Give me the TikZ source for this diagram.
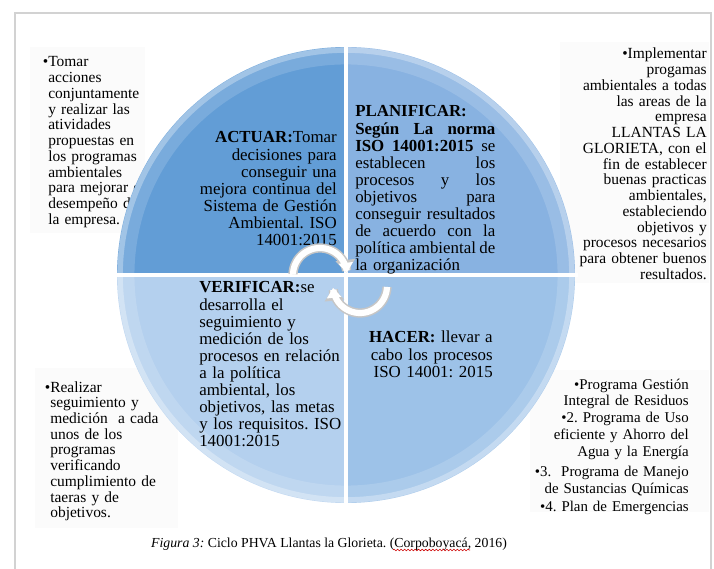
\documentclass[tikz,border=0pt]{standalone}
\usepackage{fontspec}
\setmainfont{Liberation Serif}
\usepackage{tikz}
\usetikzlibrary{arrows.meta,decorations.pathmorphing}

\definecolor{actuar}{RGB}{98,157,214}
\definecolor{planificar}{RGB}{136,178,225}
\definecolor{hacer}{RGB}{157,194,232}
\definecolor{verificar}{RGB}{180,208,238}

% bullet hanging into the left margin
\newcommand{\bl}{\makebox[0pt][r]{•}}
\frenchspacing

\begin{document}
\begin{tikzpicture}[x=0.025cm, y=-0.025cm,
    note/.style={inner sep=0pt, font=\fontsize{11}{11.2}\selectfont},
    phase/.style={inner sep=0pt, font=\fontsize{12}{12.1}\selectfont},
    cycout/.style={line width=6.6pt, gray!45, -{Triangle[width=13.5pt,length=9pt]}},
    cycin/.style={line width=4.4pt, white, -{Triangle[width=10pt,length=7pt]}}]

    \useasboundingbox (0,0) rectangle (714,569);

    % Frame
    \draw[gray!35, line width=0.8pt] (15,569) -- (15,13) -- (711,13) -- (711,569);

    % Side notes
    \fill[black!1.5] (30,47) rectangle (145,233);
    \fill[black!1.5] (560,42) rectangle (709,283);
    \fill[black!1.5] (35,368) rectangle (178,528);
    \fill[black!1.5] (530,370) rectangle (709,512);

    \node[note, anchor=base west, align=left, text width=3cm] (tomar) at (48,67)
        {\bl Tomar\\ acciones\\ conjuntamente\\ y realizar las\\ atividades\\
         propuestas en\\ los programas\\ ambientales\\ para mejorar el\\
         desempeño de\\ la empresa.};
    \node[note, anchor=base east, align=right, text width=3.8cm] (implementar) at (707,59)
        {•Implementar\\ progamas\\ ambientales a todas\\ las areas de la\\ empresa\\
         LLANTAS LA\\ GLORIETA, con el\\ fin de establecer\\ buenas practicas\\
         ambientales,\\ estableciendo\\ objetivos y\\ procesos necesarios\\
         para obtener buenos\\ resultados.};
    \node[note, anchor=base west, align=left, text width=3.2cm] (realizar) at (50,392)
        {\bl Realizar\\ seguimiento y\\ medición\ \ a cada\\ unos de los\\ programas\\
         verificando\\ cumplimiento de\\ taeras y de\\ objetivos.};
    \node[note, anchor=base east, align=right, text width=4.2cm,
        font=\fontsize{10.6}{12}\selectfont] (programas) at (689,389)
        {•Programa Gestión\\ Integral de Residuos\\ •2. Programa de Uso\\
         eficiente y Ahorro del\\ Agua y la Energía\\[2pt] •3.\ \ Programa de Manejo\\
         de Sustancias Químicas\\[1pt] •4. Plan de Emergencias};

    % Quadrants
    \fill[actuar] (346,275) -- (117,275)
        arc[start angle=180, end angle=270, x radius=229, y radius=228] -- cycle;
    \fill[planificar] (346,275) -- (346,47)
        arc[start angle=270, end angle=360, x radius=229, y radius=228] -- cycle;
    \fill[hacer] (346,275) -- (575,275)
        arc[start angle=0, end angle=90, x radius=229, y radius=228] -- cycle;
    \fill[verificar] (346,275) -- (346,503)
        arc[start angle=90, end angle=180, x radius=229, y radius=228] -- cycle;
    \draw[white, opacity=.15, line width=12pt] (346,275) ellipse[x radius=220, y radius=219];
    \draw[white, opacity=.3, line width=4pt] (346,275) ellipse[x radius=226, y radius=225];
    \draw[white, line width=3.2pt] (346,44) -- (346,506);
    \draw[white, line width=3.2pt] (114,275) -- (578,275);

    % Phases
    \node[phase, anchor=base east, align=right, text width=3.8cm] (actuar) at (337,143)
        {\textbf{ACTUAR:}Tomar\\ decisiones para\\ conseguir una\\ mejora continua del\\
         Sistema de Gestión\\ Ambiental. ISO\\ 14001:2015};
    \node[phase, anchor=base west, align=left, text width=3.5cm] (planificar) at (355,117)
        {\textbf{PLANIFICAR:}\\
         \textbf{Según\hfill La\hfill norma}\\
         \textbf{ISO\hfill 14001:2015}\hfill se\\
         establecen\hfill los\\
         procesos\hfill y\hfill los\\
         objetivos\hfill para\\
         conseguir\hfill resultados\\
         de\hfill acuerdo\hfill con\hfill la\\
         política\hfill ambiental\hfill de\\
         la organización};
    \node[phase, anchor=base west, align=left, text width=3.8cm] (verificar) at (199,293)
        {\textbf{VERIFICAR:}se\\ desarrolla el\\ seguimiento y\\ medición de los\\
         procesos en relación\\ a la política\\ ambiental, los\\ objetivos, las metas\\
         y los requisitos. ISO\\ 14001:2015};
    \node[phase, anchor=base east, align=right, text width=3.5cm,
        font=\fontsize{12}{12.4}\selectfont] (hacer) at (493,343)
        {\textbf{HACER:} llevar a\\ cabo los procesos\\ ISO 14001: 2015};

    % Cycle arrows
    \draw[cycout] plot[domain=182:355, samples=40] ({320+27*cos(\x)},{275+27*sin(\x)});
    \draw[cycin] plot[domain=182:355, samples=40] ({320+27*cos(\x)},{275+27*sin(\x)});
    \draw[cycout] plot[domain=2:176, samples=40] ({360+27*cos(\x)},{286+27*sin(\x)});
    \draw[cycin] plot[domain=2:176, samples=40] ({360+27*cos(\x)},{286+27*sin(\x)});

    % Caption
    \node[anchor=base, inner sep=0pt, font=\fontsize{9.8}{11}\selectfont] (caption) at (329,547)
        {\textit{Figura 3:} Ciclo PHVA Llantas la Glorieta. (Corpoboyacá, 2016)};
    \draw[red!80!black, line width=0.4pt, decorate,
          decoration={snake, amplitude=0.6pt, segment length=2.5pt}] (393,550) -- (470,550);
\end{tikzpicture}
\end{document}
